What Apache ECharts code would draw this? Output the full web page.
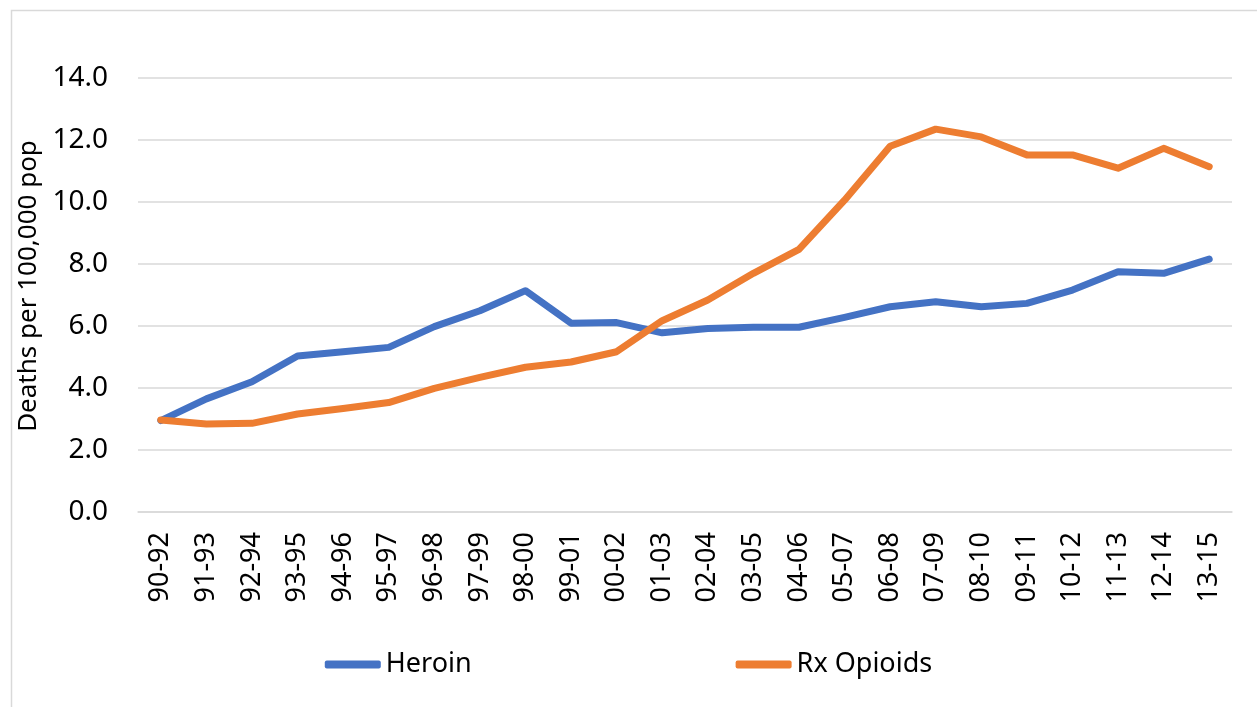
<!DOCTYPE html>
<html>
<head>
<meta charset="utf-8">
<script src="https://cdn.jsdelivr.net/npm/echarts@6/dist/echarts.min.js"></script>
<style>
  html, body { margin: 0; padding: 0; background: #fff; }
  #chart { width: 1257px; height: 707px; }
</style>
</head>
<body>
<div id="chart"></div>
<script>
// Three-year rolling periods
const periods = ['90-92','91-93','92-94','93-95','94-96','95-97','96-98','97-99','98-00','99-01',
  '00-02','01-03','02-04','03-05','04-06','05-07','06-08','07-09','08-10','09-11',
  '10-12','11-13','12-14','13-15'];

// Deaths per 100,000 population
const heroin = [2.95, 3.65, 4.2, 5.03, 5.17, 5.31, 5.98, 6.49, 7.14, 6.09,
  6.11, 5.78, 5.92, 5.96, 5.96, 6.28, 6.62, 6.78, 6.62, 6.73,
  7.16, 7.75, 7.70, 8.16];
const rxOpioids = [2.97, 2.84, 2.86, 3.16, 3.34, 3.53, 3.99, 4.34, 4.67, 4.84,
  5.17, 6.17, 6.84, 7.70, 8.47, 10.06, 11.8, 12.35, 12.1, 11.52,
  11.52, 11.09, 11.73, 11.14];

const yTicks = { min: 0, max: 14, interval: 2 };

const FONT = '"Noto Sans", "DejaVu Sans", sans-serif';
const chart = echarts.init(document.getElementById('chart'), null, { renderer: 'canvas' });

chart.setOption({
  backgroundColor: '#ffffff',
  animation: false,
  graphic: [{
    type: 'rect',
    shape: { x: 11.5, y: 10.5, width: 1300, height: 800 },
    style: { fill: 'none', stroke: '#d9d9d9', lineWidth: 1.5 },
    silent: true
  }],
  grid: { left: 138, right: 25, top: 78, bottom: 195 },
  legend: {
    bottom: 24,
    left: 'center',
    itemWidth: 56,
    itemHeight: 8,
    itemGap: 264,
    icon: 'roundRect',
    textStyle: { fontFamily: FONT, fontSize: 27, color: '#000' },
    data: ['Heroin', 'Rx Opioids']
  },
  xAxis: {
    type: 'category',
    data: periods,
    boundaryGap: true,
    axisLine: { show: true, lineStyle: { color: '#d9d9d9', width: 1.5 } },
    axisTick: { show: false },
    axisLabel: {
      rotate: 90,
      interval: 0,
      margin: 20,
      fontFamily: FONT,
      fontSize: 27,
      color: '#000'
    }
  },
  yAxis: {
    type: 'value',
    min: yTicks.min,
    max: yTicks.max,
    interval: yTicks.interval,
    name: 'Deaths per 100,000 pop',
    nameLocation: 'middle',
    nameGap: 87,
    nameRotate: 90,
    nameTextStyle: { fontFamily: FONT, fontSize: 26, color: '#000', padding: [0, 0, 0, 18] },
    axisLine: { show: false },
    axisTick: { show: false },
    splitLine: { lineStyle: { color: '#d9d9d9', width: 1.5 } },
    axisLabel: {
      margin: 30,
      fontFamily: FONT,
      fontSize: 28,
      color: '#000',
      formatter: v => v.toFixed(1)
    }
  },
  series: [
    {
      name: 'Heroin',
      type: 'line',
      data: heroin,
      symbol: 'none',
      color: '#4472C4',
      lineStyle: { width: 7, color: '#4472C4', cap: 'round', join: 'round' }
    },
    {
      name: 'Rx Opioids',
      type: 'line',
      data: rxOpioids,
      symbol: 'none',
      color: '#ED7D31',
      lineStyle: { width: 7, color: '#ED7D31', cap: 'round', join: 'round' }
    }
  ]
});
</script>
</body>
</html>
